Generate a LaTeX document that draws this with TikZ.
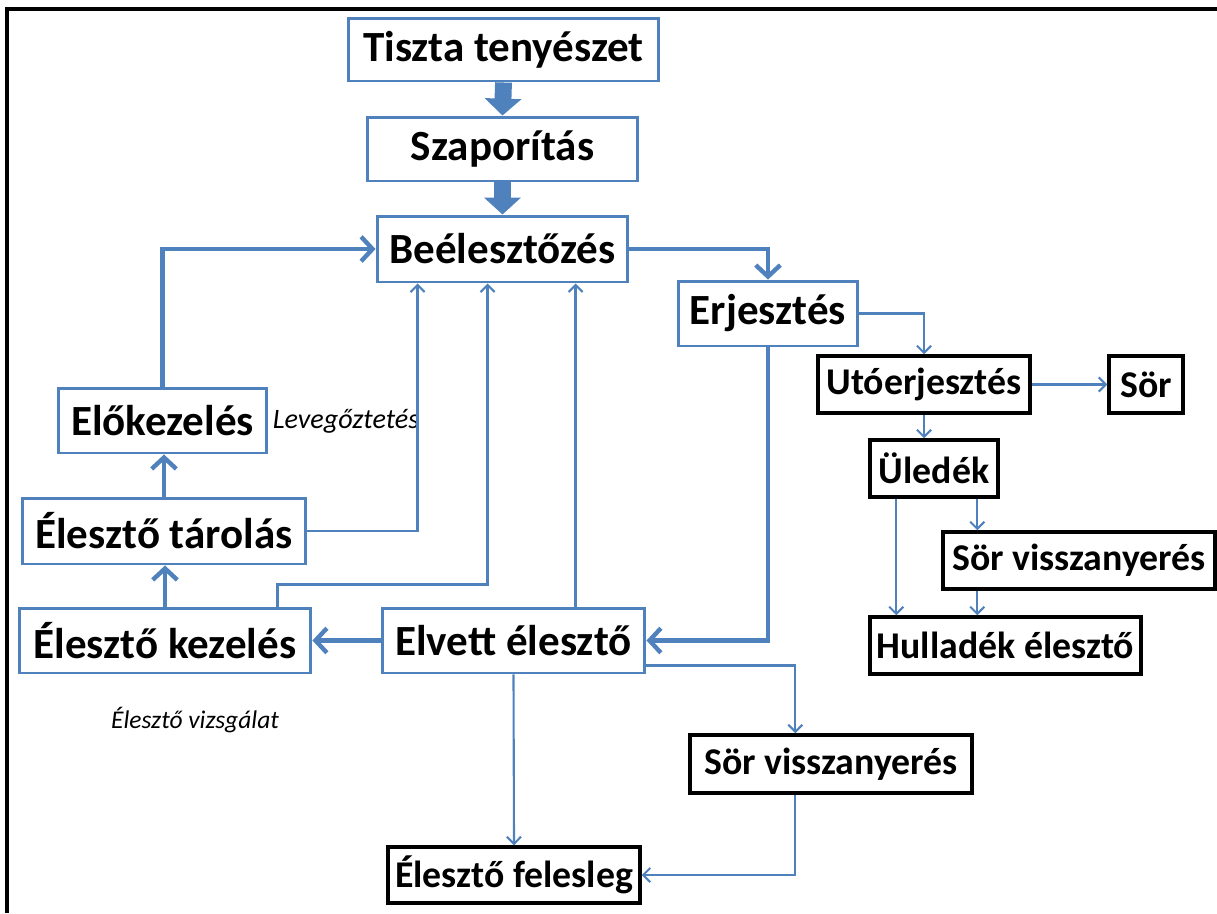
\documentclass[tikz,border=0pt]{standalone}
\usepackage{fontspec}
\setmainfont{Carlito}
\usetikzlibrary{arrows.meta,calc}
\definecolor{officeblue}{HTML}{4F81BD}

\begin{document}
\begin{tikzpicture}[x=0.02cm,y=-0.02cm,
    bluebox/.style={draw=officeblue,line width=1.7pt,inner sep=0pt,font=\fontsize{24.5}{28}\selectfont\bfseries},
    blackbox/.style={draw=black,line width=2pt,inner sep=0pt,font=\fontsize{21.5}{25}\selectfont\bfseries},
    note/.style={font=\fontsize{14.5}{17}\selectfont\itshape},
    fatflow/.style={draw=officeblue,line width=9.6pt,-{Triangle[length=9.6pt,width=20.4pt]}},
    mainflow/.style={draw=officeblue,line width=2.5pt,-{Straight Barb[length=6.5pt,width=14pt]}},
    sideflow/.style={draw=officeblue,line width=1.2pt,-{Straight Barb[length=4pt,width=8pt]}}]
  \useasboundingbox (0,0) rectangle (1217,913);
  \draw[line width=1.8pt] (7,913) -- (7,9) -- (1217,9);

  % main line
  \node[bluebox,minimum width=6.22cm,minimum height=1.26cm] (tiszta) at (503.5,49.5) {Tiszta tenyészet};
  \node[bluebox,minimum width=5.42cm,minimum height=1.28cm] (szapor) at (502.5,149) {Szaporítás};
  \node[bluebox,minimum width=5.02cm,minimum height=1.32cm] (beel) at (502.5,249) {Beélesztőzés};
  \node[bluebox,minimum width=3.6cm,minimum height=1.3cm] (erj) at (768,313.5) {Erjesztés};
  \node[bluebox,minimum width=5.26cm,minimum height=1.3cm] (elvett) at (513.5,640.5) {Elvett élesztő};

  % yeast handling
  \node[bluebox,minimum width=4.18cm,minimum height=1.3cm] (elokez) at (162.5,420.5) {Előkezelés};
  \node[bluebox,minimum width=5.68cm,minimum height=1.32cm] (tarolas) at (164,531) {Élesztő tárolás};
  \node[bluebox,minimum width=5.84cm,minimum height=1.3cm] (kezeles) at (165,640.5) {Élesztő kezelés};
  \node[note,font=\fontsize{16}{19}\selectfont\itshape] (lev) at (346,421) {Levegőztetés};
  \node[note] (vizsg) at (195,720) {Élesztő vizsgálat};

  % beer side
  \node[blackbox,minimum width=4.24cm,minimum height=1.14cm] (uto) at (924,384.5) {Utóerjesztés};
  \node[blackbox,minimum width=1.48cm,minimum height=1.14cm] (sor) at (1146,384.5) {Sör};
  \node[blackbox,minimum width=2.56cm,minimum height=1.14cm] (uledek) at (934,468.5) {Üledék};
  \node[blackbox,minimum width=5.44cm,minimum height=1.14cm] (sv1) at (1079,560.5) {Sör visszanyerés};
  \node[blackbox,minimum width=5.42cm,minimum height=1.14cm] (hullad) at (1005.5,645.5) {Hulladék élesztő};
  \node[blackbox,minimum width=5.64cm,minimum height=1.16cm] (sv2) at (831,764) {Sör visszanyerés};
  \node[blackbox,minimum width=5.04cm,minimum height=1.12cm] (felesleg) at (514,875) {Élesztő felesleg};

  \coordinate (t1) at ($(beel.south west)+(42,0)$);
  \coordinate (k1) at ($(kezeles.north west)+(260,0)$);
  \coordinate (t2) at ($(beel.south west)+(112,0)$);
  \coordinate (e1) at ($(elvett.north west)+(195,0)$);
  \coordinate (u1) at ($(uledek.south west)+(28,0)$);
  \coordinate (u2) at ($(uledek.south west)+(109,0)$);
  \coordinate (e2) at ($(elvett.south east)+(0,-9)$);
  \coordinate (s1) at ($(sv2.north west)+(107,0)$);

  \draw[fatflow] (tiszta.south) -- (szapor.north);
  \draw[fatflow] (szapor.south) -- (beel.north);

  \draw[mainflow] (beel.east) -| (erj.north);
  \draw[mainflow] (erj.south) |- (elvett.east);
  \draw[mainflow] (elvett.west) -- (kezeles.east);
  \draw[mainflow] (kezeles.north) -- (kezeles.north |- tarolas.south);
  \draw[mainflow] (tarolas.north) -- (tarolas.north |- elokez.south);
  \draw[mainflow] (elokez.north) |- (beel.west);

  \draw[sideflow] (tarolas.east) -| (t1);
  \draw[sideflow] (k1) -- ++(0,-22) -| (t2);
  \draw[sideflow] (e1) -- (e1 |- beel.south);
  \draw[sideflow] (erj.east) -| (uto.north);
  \draw[sideflow] (uto.east) -- (sor.west);
  \draw[sideflow] (uto.south) -- (uto.south |- uledek.north);
  \draw[sideflow] (u1) -- (u1 |- hullad.north);
  \draw[sideflow] (u2) -- (u2 |- sv1.north);
  \draw[sideflow] (u2 |- sv1.south) -- (u2 |- hullad.north);
  \draw[sideflow] (e2) -| (s1);
  \draw[sideflow] (elvett.south) -- (felesleg.north);
  \draw[sideflow] (s1 |- sv2.south) |- (felesleg.east);
\end{tikzpicture}
\end{document}
